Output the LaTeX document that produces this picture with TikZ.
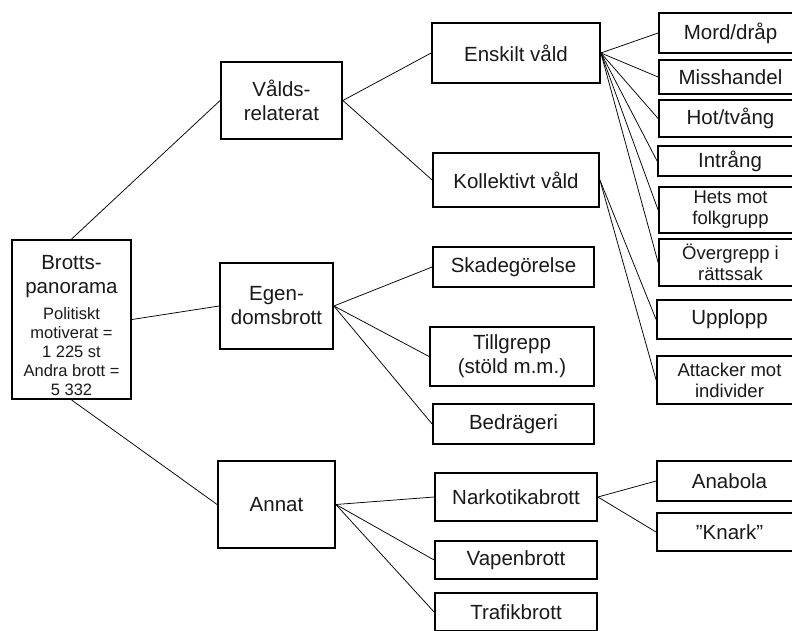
\documentclass[tikz,border=0pt]{standalone}
\usepackage{fontspec}
\setmainfont{Liberation Sans}
\newcommand\rootsmall{\fontsize{16.5}{19}\selectfont}
\begin{document}
\begin{tikzpicture}[x=1pt,y=-1pt,
  box/.style={draw=black, line width=1.8pt, align=center, inner sep=0pt, text=black!90,
    font=\fontsize{20.5}{24}\selectfont},
  smallbox/.style={box, font=\fontsize{18.5}{21}\selectfont},
  link/.style={draw=black, line width=0.75pt}]
\useasboundingbox (0,0) rectangle (792,630);
\clip (0,0) rectangle (792,630);
\fill[white] (0,0) rectangle (792,630);
% level 0
\node[box, minimum width=119pt, minimum height=159pt] (root) at (71.5,319.5)
  {\rule{0pt}{27pt}Brotts-\\panorama\\[2pt]\rootsmall Politiskt\\[-5pt]\rootsmall motiverat =\\[-5pt]\rootsmall 1 225 st\\[-5pt]\rootsmall Andra brott =\\[-5pt]\rootsmall 5 332};
% level 1
\node[box, minimum width=121pt, minimum height=77pt] (vald) at (281.5,100.5) {Vålds-\\relaterat};
\node[box, minimum width=113pt, minimum height=86pt] (egen) at (276.5,306) {Egen-\\domsbrott};
\node[box, minimum width=117pt, minimum height=87pt] (annat) at (276.5,504.5) {Annat};
% level 2
\node[box, minimum width=168pt, minimum height=60pt] (enskilt) at (516,53) {Enskilt våld};
\node[box, minimum width=166pt, minimum height=54pt] (kollektivt) at (516,180) {Kollektivt våld};
\node[box, minimum width=161pt, minimum height=40pt] (skade) at (513.5,267) {Skadegörelse};
\node[box, minimum width=164pt, minimum height=59pt] (tillgrepp) at (512,356.5) {Tillgrepp\\(stöld m.m.)};
\node[box, minimum width=161pt, minimum height=40pt] (bedrag) at (513.5,424) {Bedrägeri};
\node[box, minimum width=162pt, minimum height=48pt] (nark) at (516,497) {Narkotikabrott};
\node[box, minimum width=162pt, minimum height=38pt] (vapen) at (516,560) {Vapenbrott};
\node[box, minimum width=162pt, minimum height=38pt] (trafik) at (516,612) {Trafikbrott};
% level 3
\node[box, minimum width=143pt, minimum height=40pt] (mord) at (730.5,33) {Mord/dråp};
\node[box, minimum width=143pt, minimum height=34pt] (miss) at (730.5,77) {Misshandel};
\node[box, minimum width=143pt, minimum height=37pt] (hot) at (730.5,118.5) {Hot/tvång};
\node[box, minimum width=144pt, minimum height=30pt] (intrang) at (730,161) {Intrång};
\node[smallbox, minimum width=143pt, minimum height=46pt] (hets) at (730.5,210) {Hets mot\\folkgrupp};
\node[smallbox, minimum width=143pt, minimum height=47pt] (overgrepp) at (730.5,262.5) {Övergrepp i\\rättssak};
\node[box, minimum width=145pt, minimum height=39pt] (upplopp) at (729.5,319.5) {Upplopp};
\node[smallbox, minimum width=145pt, minimum height=48pt] (attacker) at (729.5,380) {Attacker mot\\individer};
\node[box, minimum width=145pt, minimum height=40pt] (anabola) at (729.5,481) {Anabola};
\node[box, minimum width=145pt, minimum height=38pt] (knark) at (729.5,532) {”Knark”};
% connectors
\draw[link] (root.north) -- (vald.west);
\draw[link] (root.east) -- (egen.west);
\draw[link] (root.south) -- (annat.west);
\draw[link] (vald.east) -- (enskilt.west);
\draw[link] (vald.east) -- (kollektivt.west);
\foreach \t in {mord,miss,hot,intrang,hets,overgrepp}
  \draw[link] (enskilt.east) -- (\t.west);
\draw[link] (kollektivt.east) -- (upplopp.west);
\draw[link] (kollektivt.east) -- (attacker.west);
\foreach \t in {skade,tillgrepp,bedrag}
  \draw[link] (egen.east) -- (\t.west);
\foreach \t in {nark,vapen,trafik}
  \draw[link] (annat.east) -- (\t.west);
\draw[link] (nark.east) -- (anabola.west);
\draw[link] (nark.east) -- (knark.west);
\end{tikzpicture}
\end{document}
